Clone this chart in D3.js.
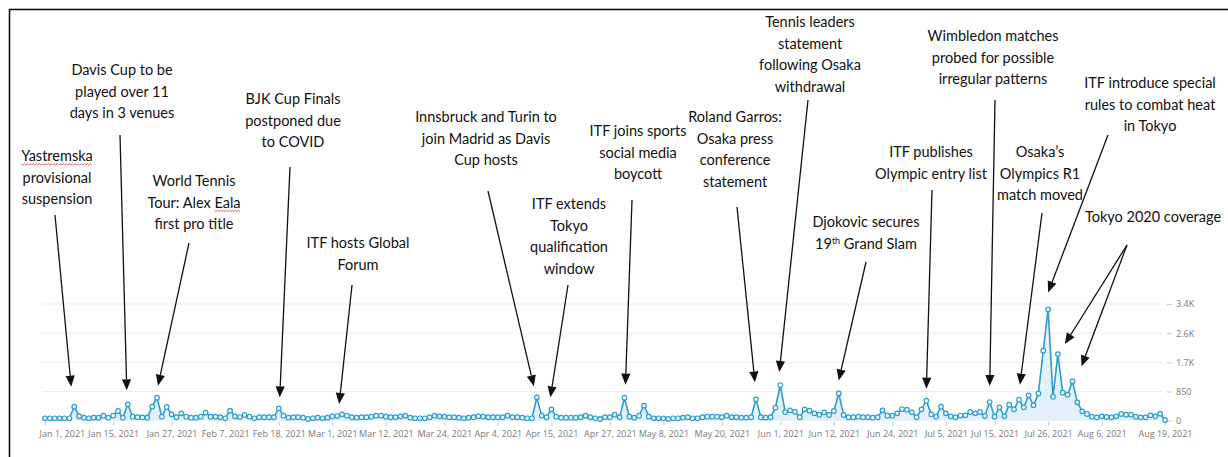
<!DOCTYPE html>
<html>
<head>
<meta charset="utf-8">
<script src="https://cdn.jsdelivr.net/npm/d3@7"></script>
<style>
  body { margin: 0; background: #fff; }
  svg { display: block; }
  .note { font-family: Lato, "Open Sans", sans-serif; font-size: 14.5px; fill: #111; }
  .axis text { font-family: "Open Sans", sans-serif; font-size: 9px; fill: #7a7a7a; }
  .axis line { stroke: #c8c8c8; }
</style>
</head>
<body>
<div id="chart"></div>
<script>
// Page + plot geometry
const WIDTH = 1228;
const HEIGHT = 457;
const PLOT = { left: 45, right: 1165, top: 304, bottom: 420.7 };
const LINE_COLOR = "#2a9dd2";

// Daily mentions, Jan 1 2021 .. Aug 19 2021
const START_DATE = "2021-01-01";
const mentions = [
  70, 70, 70, 70, 70, 70, 408, 130, 88, 70,
  88, 88, 146, 88, 146, 282, 88, 476, 117, 100,
  95, 88, 408, 670, 117, 400, 185, 100, 214, 117,
  88, 88, 117, 234, 117, 117, 100, 70, 292, 127,
  107, 166, 117, 70, 100, 100, 100, 100, 360, 146,
  88, 100, 100, 88, 50, 70, 88, 70, 88, 127,
  136, 185, 146, 100, 88, 100, 100, 117, 146, 146,
  117, 100, 100, 127, 146, 88, 70, 70, 70, 100,
  146, 127, 117, 100, 100, 88, 70, 88, 100, 127,
  117, 100, 100, 100, 100, 146, 100, 100, 88, 70,
  70, 680, 146, 100, 330, 117, 88, 88, 88, 88,
  100, 146, 100, 70, 50, 100, 100, 175, 100, 670,
  117, 88, 146, 437, 117, 70, 70, 70, 50, 70,
  70, 88, 100, 70, 70, 100, 117, 117, 117, 100,
  146, 100, 100, 88, 88, 100, 622, 100, 88, 100,
  379, 1039, 253, 302, 263, 100, 331, 292, 214, 175,
  243, 166, 282, 796, 166, 100, 100, 117, 100, 100,
  88, 100, 302, 146, 146, 214, 340, 321, 243, 100,
  331, 583, 185, 117, 408, 214, 127, 100, 150, 156,
  253, 214, 253, 137, 544, 117, 389, 127, 467, 331,
  612, 389, 738, 447, 796, 2038, 3241, 699, 1941, 816,
  758, 1146, 535, 273, 195, 117, 98, 127, 108, 98,
  127, 195, 175, 175, 117, 98, 98, 156, 127, 205,
  20
];

const xTickDates = [
  "2021-01-01", "2021-01-15", "2021-01-27", "2021-02-07", "2021-02-18",
  "2021-03-01", "2021-03-12", "2021-03-24", "2021-04-04", "2021-04-15",
  "2021-04-27", "2021-05-08", "2021-05-20", "2021-06-01", "2021-06-12",
  "2021-06-24", "2021-07-05", "2021-07-15", "2021-07-26", "2021-08-06",
  "2021-08-19"
];
const yTicks = [0, 850, 1700, 2550, 3400];
const yTickLabels = ["0", "850", "1.7K", "2.6K", "3.4K"];

// Event call-outs: text, the day they point at, and where the text sits
const notes = [
  { lines: ["Yastremska", "provisional", "suspension"], dates: ["2021-01-07"], tx: 57, ty: 161, from: [55, 215], dx: [-3], gap: [20], squiggle: [0, "Yastremska"] },
  { lines: ["Davis Cup to be", "played over 11", "days in 3 venues"], dates: ["2021-01-18"], tx: 122, ty: 75, from: [120, 135], dx: [-1], gap: [14] },
  { lines: ["World Tennis", "Tour: Alex Eala", "first pro title"], dates: ["2021-01-24"], tx: 194, ty: 186, from: [189, 243], dx: [1], gap: [12], squiggle: [1, "Eala"] },
  { lines: ["BJK Cup Finals", "postponed due", "to COVID"], dates: ["2021-02-18"], tx: 293, ty: 104, from: [290, 167], dx: [1], gap: [11] },
  { lines: ["ITF hosts Global", "Forum"], dates: ["2021-03-02"], tx: 358, ty: 248, from: [352, 285], dx: [2], gap: [12] },
  { lines: ["Innsbruck and Turin to", "join Madrid as Davis", "Cup hosts"], dates: ["2021-04-12"], tx: 486, ty: 122, from: [488, 191], dx: [-3], gap: [11] },
  { lines: ["ITF extends", "Tokyo", "qualification", "window"], dates: ["2021-04-15"], tx: 569, ty: 209, from: [568, 285], dx: [-1], gap: [12] },
  { lines: ["ITF joins sports", "social media", "boycott"], dates: ["2021-04-30"], tx: 638, ty: 136, from: [632, 200], dx: [1], gap: [13] },
  { lines: ["Roland Garros:", "Osaka press", "conference", "statement"], dates: ["2021-05-27"], tx: 735, ty: 122, from: [737, 207], dx: [-1], gap: [17] },
  { lines: ["Tennis leaders", "statement", "following Osaka", "withdrawal"], dates: ["2021-06-01"], tx: 810, ty: 27, from: [808, 100], dx: [-1], gap: [13] },
  { lines: ["Djokovic secures", "19|th| Grand Slam"], dates: ["2021-06-13"], tx: 866, ty: 227, from: [866, 262], dx: [0], gap: [13] },
  { lines: ["ITF publishes", "Olympic entry list"], dates: ["2021-07-01"], tx: 931, ty: 157, from: [932, 190], dx: [0], gap: [12] },
  { lines: ["Wimbledon matches", "probed for possible", "irregular patterns"], dates: ["2021-07-14"], tx: 993, ty: 41, from: [995, 100], dx: [0], gap: [16] },
  { lines: ["Osaka\u2019s", "Olympics R1", "match moved"], dates: ["2021-07-20"], tx: 1040, ty: 157, from: [1042, 213], dx: [1], gap: [15] },
  { lines: ["ITF introduce special", "rules to combat heat", "in Tokyo"], dates: ["2021-07-26"], tx: 1150, ty: 88, from: [1108, 135], dx: [0], gap: [17] },
  { lines: ["Tokyo 2020 coverage"], dates: ["2021-07-28", "2021-07-31"], tx: 1153, ty: 222, from: [1127, 245], dx: [7, 9], gap: [10, 15] }
];

const parseDay = d3.timeParse("%Y-%m-%d");
const start = parseDay(START_DATE);
const series = mentions.map((v, i) => ({ date: d3.timeDay.offset(start, i), value: v }));
const valueOn = (date) => series.find((d) => +d.date === +date).value;

const svg = d3.select("#chart").append("svg")
  .attr("width", WIDTH)
  .attr("height", HEIGHT);

// frame round the slide
svg.append("rect")
  .attr("x", 9.5).attr("y", 9.5)
  .attr("width", 1240).attr("height", 470)
  .attr("fill", "none")
  .attr("stroke", "#111")
  .attr("stroke-width", 1.6);

const x = d3.scaleTime()
  .domain(d3.extent(series, (d) => d.date))
  .range([PLOT.left, PLOT.right]);

const y = d3.scaleLinear()
  .domain([0, 3400])
  .range([PLOT.bottom, PLOT.top]);

// gridlines
svg.append("g")
  .selectAll("line")
  .data(yTicks.slice(1))
  .join("line")
  .attr("x1", 42).attr("x2", 1163)
  .attr("y1", (d) => y(d)).attr("y2", (d) => y(d))
  .attr("stroke", "#ededed");

// x axis
const xAxis = svg.append("g")
  .attr("class", "axis")
  .attr("transform", `translate(0, ${y(0) + 1})`)
  .call(d3.axisBottom(x)
    .tickValues(xTickDates.map(parseDay))
    .tickFormat(d3.timeFormat("%b %-d, %Y"))
    .tickSize(4)
    .tickPadding(5));
xAxis.select(".domain").remove();
xAxis.select(".tick:first-of-type text").attr("text-anchor", "start").attr("x", -6);

// y axis on the right
const yAxis = svg.append("g")
  .attr("class", "axis")
  .attr("transform", `translate(1167, 0)`)
  .call(d3.axisRight(y)
    .tickValues(yTicks)
    .tickFormat((d, i) => yTickLabels[i])
    .tickSize(5)
    .tickPadding(4));
yAxis.select(".domain").remove();

// area + line + points
const area = d3.area()
  .x((d) => x(d.date))
  .y0(y(0))
  .y1((d) => y(d.value));

const line = d3.line()
  .x((d) => x(d.date))
  .y((d) => y(d.value));

svg.append("path")
  .datum(series)
  .attr("d", area)
  .attr("fill", "#e3f2fa");

svg.append("path")
  .datum(series)
  .attr("d", line)
  .attr("fill", "none")
  .attr("stroke", LINE_COLOR)
  .attr("stroke-width", 1.6);

svg.append("g")
  .selectAll("circle")
  .data(series)
  .join("circle")
  .attr("cx", (d) => x(d.date))
  .attr("cy", (d) => y(d.value))
  .attr("r", 2.3)
  .attr("fill", "#fff")
  .attr("stroke", LINE_COLOR)
  .attr("stroke-width", 1.2);

// call-outs
const LINE_HEIGHT = 21.5;
const noteLayer = svg.append("g");

notes.forEach((n) => {
  const text = noteLayer.append("text")
    .attr("class", "note")
    .attr("text-anchor", "middle");

  const tspans = n.lines.map((ln, i) => {
    const t = text.append("tspan")
      .attr("x", n.tx)
      .attr("y", n.ty + i * LINE_HEIGHT);
    if (ln.includes("|")) {
      // superscript part, e.g. 19th
      const parts = ln.split("|");
      t.append("tspan").text(parts[0]);
      t.append("tspan").attr("font-size", "9px").attr("dy", -5).text(parts[1]);
      t.append("tspan").attr("dy", 5).text(parts[2]);
    } else {
      t.text(ln);
    }
    return t;
  });

  // red spell-check squiggle
  if (n.squiggle) {
    const [li, word] = n.squiggle;
    const node = tspans[li].node();
    const idx = n.lines[li].indexOf(word);
    const a = node.getExtentOfChar(idx);
    const b = node.getExtentOfChar(idx + word.length - 1);
    const x0 = a.x, x1 = b.x + b.width;
    const yb = n.ty + li * LINE_HEIGHT + 3;
    const pts = [];
    for (let px = x0, k = 0; px <= x1; px += 1.5, k++) {
      pts.push([px, yb + (k % 2 ? 1.1 : -0.3)]);
    }
    noteLayer.append("path")
      .attr("d", d3.line()(pts))
      .attr("fill", "none")
      .attr("stroke", "#e0302a")
      .attr("stroke-width", 0.8);
  }

  // arrows
  n.dates.forEach((ds, k) => {
    const dt = parseDay(ds);
    const tip = [x(dt) + n.dx[k], y(valueOn(dt)) - n.gap[k]];
    const [sx, sy] = n.from;
    const ang = Math.atan2(tip[1] - sy, tip[0] - sx);
    const len = 11, half = 4.6;
    const base = [tip[0] - len * Math.cos(ang), tip[1] - len * Math.sin(ang)];
    const px = -Math.sin(ang), py = Math.cos(ang);

    noteLayer.append("line")
      .attr("x1", sx).attr("y1", sy)
      .attr("x2", base[0]).attr("y2", base[1])
      .attr("stroke", "#111")
      .attr("stroke-width", 1.3);

    noteLayer.append("path")
      .attr("d", `M${tip[0]},${tip[1]}L${base[0] + px * half},${base[1] + py * half}L${base[0] - px * half},${base[1] - py * half}Z`)
      .attr("fill", "#111");
  });
});
</script>
</body>
</html>
